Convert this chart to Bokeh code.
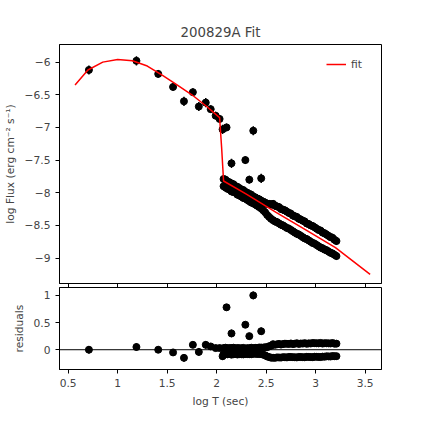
import numpy as np
from bokeh.plotting import figure
from bokeh.layouts import column
from bokeh.models import Range1d, Span, FixedTicker, Legend, LegendItem
from bokeh.embed import file_html
from bokeh.resources import INLINE

# sparse points
sp_x = [0.71, 1.19, 1.41, 1.56, 1.67, 1.76, 1.82, 1.89, 1.94, 1.99, 2.03, 2.06, 2.10, 2.15, 2.29, 2.33, 2.37, 2.45]
sp_y = [-6.12, -5.98, -6.18, -6.38, -6.60, -6.46, -6.68, -6.62, -6.72, -6.82, -6.87, -7.03, -7.00, -7.55, -7.50, -7.80, -7.05, -7.78]
sp_res = [0.0, 0.05, 0.0, -0.05, -0.15, 0.09, -0.04, 0.09, 0.06, 0.03, 0.03, -0.12, 0.78, 0.30, 0.46, 0.25, 1.0, 0.34]
sp_err = [0.07, 0.07, 0.06, 0.06, 0.07, 0.06, 0.07, 0.07, 0.06, 0.06, 0.06, 0.07, 0.06, 0.07, 0.06, 0.06, 0.07, 0.07]

dense_x = [2.07, 2.09, 2.11, 2.13, 2.15, 2.17, 2.19, 2.21, 2.23, 2.25, 2.27, 2.29, 2.31, 2.33, 2.35,
           2.37, 2.39, 2.41, 2.43, 2.45, 2.47, 2.49, 2.51, 2.53, 2.55, 2.57, 2.59, 2.61, 2.63, 2.65,
           2.67, 2.69, 2.71, 2.73, 2.75, 2.77, 2.79, 2.81, 2.83, 2.85, 2.87, 2.89, 2.91, 2.93, 2.95,
           2.97, 2.99, 3.01, 3.03, 3.05, 3.07, 3.09, 3.11, 3.13, 3.15, 3.17, 3.19, 3.21]
dense_hi = [-7.79, -7.80, -7.83, -7.84, -7.86, -7.87, -7.90, -7.91, -7.93, -7.95, -7.96, -7.99, -8.00, -8.02, -8.03,
            -8.06, -8.07, -8.09, -8.10, -8.12, -8.14, -8.15, -8.17, -8.17, -8.18, -8.17, -8.20, -8.21, -8.22, -8.25,
            -8.26, -8.27, -8.29, -8.31, -8.32, -8.35, -8.36, -8.37, -8.40, -8.41, -8.43, -8.44, -8.47, -8.48, -8.50,
            -8.51, -8.53, -8.55, -8.57, -8.58, -8.61, -8.62, -8.64, -8.66, -8.68, -8.69, -8.72, -8.74]
dense_lo = [-7.90, -7.92, -7.94, -7.95, -7.98, -7.99, -8.00, -8.03, -8.04, -8.06, -8.08, -8.09, -8.11, -8.13, -8.15,
            -8.16, -8.18, -8.20, -8.22, -8.24, -8.27, -8.30, -8.34, -8.37, -8.40, -8.42, -8.44, -8.45, -8.47, -8.49,
            -8.50, -8.52, -8.54, -8.55, -8.57, -8.59, -8.61, -8.63, -8.64, -8.66, -8.68, -8.70, -8.71, -8.73, -8.75,
            -8.77, -8.78, -8.80, -8.82, -8.84, -8.85, -8.87, -8.88, -8.90, -8.92, -8.93, -8.95, -8.97]

fit_x = [0.57, 0.70, 0.85, 1.00, 1.15, 1.30, 1.45, 1.60, 1.75, 1.90, 2.03, 2.05, 2.07, 2.30, 2.60, 2.90, 3.20, 3.55]
fit_y = [-6.35, -6.12, -6.00, -5.96, -5.98, -6.06, -6.20, -6.35, -6.50, -6.68, -6.85, -7.30, -7.82, -8.02, -8.30, -8.57, -8.84, -9.25]

n = min(len(dense_x), len(dense_hi), len(dense_lo))
dx = np.array(dense_x[:n] * 2)
dy = np.array(dense_hi[:n] + dense_lo[:n])
dres = dy - np.interp(dx, fit_x, fit_y)
derr = 0.06

FONT = "DejaVu Sans"
xr = Range1d(0.413, 3.665)

top = figure(width=424, height=287, output_backend="svg", toolbar_location=None,
             x_range=xr, y_range=Range1d(-9.39, -5.73),
             min_border_left=46, min_border_right=43, min_border_top=44, min_border_bottom=0,
             title="200829A Fit")
top.title.align = "center"
top.title.text_font = FONT
top.title.text_font_style = "normal"
top.title.text_font_size = "10pt"

top.segment(sp_x, np.array(sp_y) - np.array(sp_err), sp_x, np.array(sp_y) + np.array(sp_err), line_color="black", line_width=1.5)
top.segment(dx, dy - derr, dx, dy + derr, line_color="black", line_width=1.5)
top.scatter(sp_x, sp_y, size=7, color="black")
top.scatter(dx, dy, size=7, color="black")
fl = top.line(fit_x, fit_y, line_color="red", line_width=1.5)
leg = Legend(items=[LegendItem(label="fit", renderers=[fl])], location="top_right",
             border_line_color=None, background_fill_alpha=0, label_text_font=FONT,
             label_text_font_size="8pt")
top.add_layout(leg)

bot = figure(width=424, height=123, output_backend="svg", toolbar_location=None,
             x_range=xr, y_range=Range1d(-0.364, 1.145),
             min_border_left=46, min_border_right=43, min_border_top=0, min_border_bottom=40)
bot.add_layout(Span(location=0, dimension="width", line_color="black", line_width=1))
bot.segment(sp_x, np.array(sp_res) - np.array(sp_err), sp_x, np.array(sp_res) + np.array(sp_err), line_color="black", line_width=1.5)
bot.segment(dx, dres - derr, dx, dres + derr, line_color="black", line_width=1.5)
bot.scatter(sp_x, sp_res, size=7, color="black")
bot.scatter(dx, dres, size=7, color="black")

for f in (top, bot):
    f.grid.visible = False
    f.outline_line_color = "black"
    f.xaxis.ticker = FixedTicker(ticks=[0.5, 1.0, 1.5, 2.0, 2.5, 3.0, 3.5])
    f.xaxis.minor_tick_line_color = None
    f.yaxis.minor_tick_line_color = None
    for ax in (f.xaxis, f.yaxis):
        ax.major_label_text_font = FONT
        ax.major_label_text_font_size = "8pt"
        ax.axis_label_text_font = FONT
        ax.axis_label_text_font_size = "8pt"
        ax.axis_label_text_font_style = "normal"
        ax.major_tick_in = 0
        ax.major_tick_out = 4

top.yaxis.ticker = FixedTicker(ticks=[-9.0, -8.5, -8.0, -7.5, -7.0, -6.5, -6.0])
top.yaxis.axis_label = "log Flux (erg cm\u207b\u00b2 s\u207b\u00b9)"
top.xaxis.major_label_text_font_size = "0pt"
top.xaxis.major_label_standoff = 0
bot.yaxis.ticker = FixedTicker(ticks=[0.0, 0.5, 1.0])
bot.yaxis.axis_label = "residuals"
bot.xaxis.axis_label = "log T (sec)"

p = column(top, bot, spacing=0)
open("out.html", "w").write(file_html(p, INLINE))
